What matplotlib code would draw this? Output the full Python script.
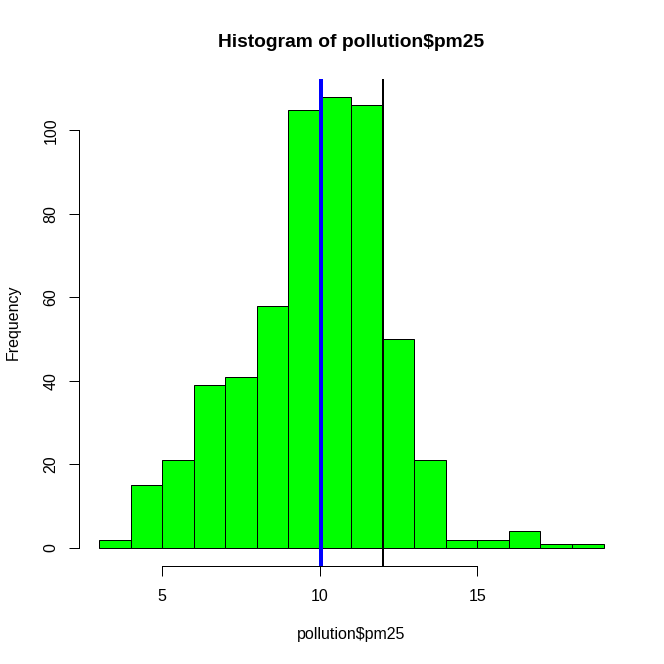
import matplotlib
matplotlib.use("Agg")
import matplotlib.pyplot as plt
import numpy as np

# Data
bin_edges = [3, 4, 5, 6, 7, 8, 9, 10, 11, 12, 13, 14, 15, 16, 17, 18, 19]
counts = [2, 15, 21, 39, 41, 58, 105, 108, 106, 50, 21, 2, 2, 4, 1, 1]
median_line = 10.05
standard_line = 12
x_ticks = [5, 10, 15]
y_ticks = [0, 20, 40, 60, 80, 100]
title = "Histogram of pollution$pm25"
xlabel = "pollution$pm25"
ylabel = "Frequency"

W = H = 664
DPI = 96
plt.rcParams['font.family'] = ['Liberation Sans', 'DejaVu Sans']

fig = plt.figure(figsize=(W / DPI, H / DPI), dpi=DPI)
L, R, T, B = 79, 623.7, 79, 566
ax = fig.add_axes([L / W, 1 - B / H, (R - L) / W, (B - T) / H])

lefts = np.array(bin_edges[:-1])
widths = np.diff(bin_edges)
ax.bar(lefts, counts, width=widths, align='edge', color='#00FF00',
       edgecolor='black', linewidth=0.75)

xr = bin_edges[-1] - bin_edges[0]
ax.set_xlim(bin_edges[0] - 0.04 * xr, bin_edges[-1] + 0.04 * xr)
yr = max(counts)
ax.set_ylim(-0.04 * yr, yr * 1.04)

ax.axvline(median_line, color='blue', linewidth=3, zorder=5)
ax.axvline(standard_line, color='black', linewidth=1.5, zorder=5)

for s in ['top', 'right']:
    ax.spines[s].set_visible(False)
ax.spines['left'].set_bounds(y_ticks[0], y_ticks[-1])
ax.spines['bottom'].set_bounds(x_ticks[0], x_ticks[-1])
ax.spines['left'].set_linewidth(0.75)
ax.spines['bottom'].set_linewidth(0.75)

ax.set_xticks(x_ticks)
ax.set_xticklabels([str(v) for v in x_ticks], fontsize=12)
ax.set_yticks(y_ticks)
ax.set_yticklabels([str(v) for v in y_ticks], fontsize=12, rotation=90, va='center')
ax.tick_params(axis='x', length=7.2, width=0.75, pad=10.3)
ax.tick_params(axis='y', length=7.2, width=0.75, pad=8.2)

fig.text((L + R) / 2 / W, 1 - 46.7 / H, title, ha='center', va='baseline',
         fontsize=14.4, fontweight='bold')
fig.text((L + R) / 2 / W, 1 - 639 / H, xlabel, ha='center', va='baseline', fontsize=12)
fig.text(20.8 / W, 1 - (T + B) / 2 / H, ylabel, ha='right', va='center',
         rotation=90, fontsize=12, rotation_mode='default')

fig.savefig('out.png', dpi=DPI)
